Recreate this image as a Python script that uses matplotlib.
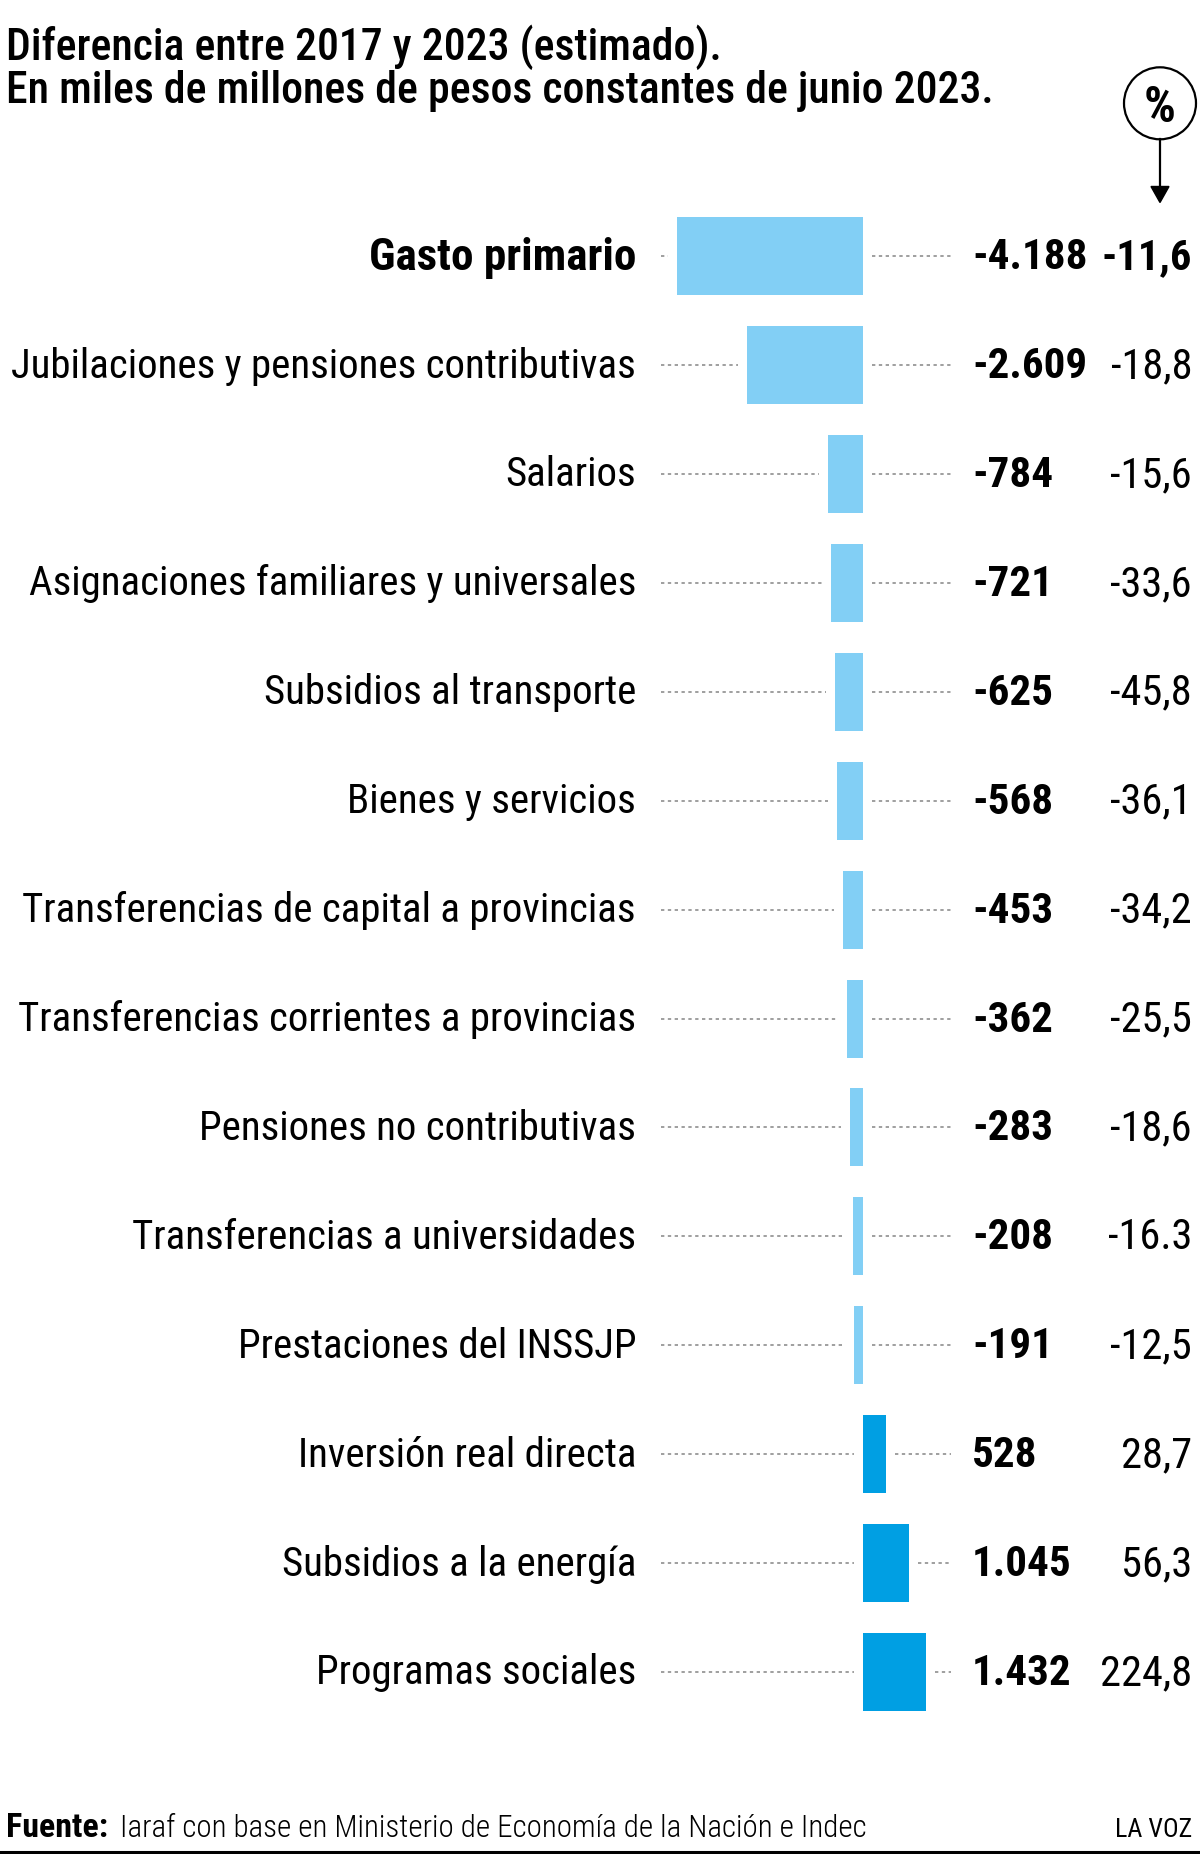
import os
import numpy as np
import matplotlib
matplotlib.use("Agg")
import matplotlib.pyplot as plt
import matplotlib.transforms as mtransforms
from matplotlib import font_manager as fm
from matplotlib.patches import Circle
from matplotlib.lines import Line2D

# data
categories = ['Gasto primario', 'Jubilaciones y pensiones contributivas', 'Salarios',
              'Asignaciones familiares y universales', 'Subsidios al transporte',
              'Bienes y servicios', 'Transferencias de capital a provincias',
              'Transferencias corrientes a provincias', 'Pensiones no contributivas',
              'Transferencias a universidades', 'Prestaciones del INSSJP',
              'Inversión real directa', 'Subsidios a la energía', 'Programas sociales']
values = [-4188, -2609, -784, -721, -625, -568, -453, -362, -283, -208, -191, 528, 1045, 1432]
pct_labels = ['-11,6', '-18,8', '-15,6', '-33,6', '-45,8', '-36,1', '-34,2', '-25,5',
              '-18,6', '-16.3', '-12,5', '28,7', '56,3', '224,8']
value_labels = [f"{v:,}".replace(',', '.') for v in values]

title = "Diferencia entre 2017 y 2023 (estimado).\nEn miles de millones de pesos constantes de junio 2023."
source = "Iaraf con base en Ministerio de Economía de la Nación e Indec"

# fonts: look for a condensed face
files = {os.path.basename(f.fname).lower(): f.fname for f in fm.fontManager.ttflist}


def pick(names, size, fallback_weight='normal'):
    for n in names:
        if n in files:
            return fm.FontProperties(fname=files[n], size=size)
    return fm.FontProperties(family=['Liberation Sans Narrow', 'Liberation Sans'],
                             weight=fallback_weight, size=size)


REG = ['robotocondensed-regular.ttf', 'liberationsansnarrow-regular.ttf',
       'notosans-condensed.ttf', 'notosans-condensedregular.ttf']
LIGHT = ['robotocondensed-light.ttf', 'notosans-condensedlight.ttf'] + REG
MED = ['robotocondensed-medium.ttf', 'notosans-condensedmedium.ttf',
       'notosans-condensedsemibold.ttf', 'robotocondensed-regular.ttf'] + REG
BOLD = ['robotocondensed-bold.ttf', 'liberationsansnarrow-bold.ttf',
        'notosans-condensedbold.ttf']
BLACK = ['robotocondensed-black.ttf', 'notosans-condensedblack.ttf',
         'notosans-condensedextrabold.ttf'] + BOLD

W, H = 1200, 1854
fig = plt.figure(figsize=(W / 100, H / 100), dpi=100)
ax = fig.add_axes([0, 0, 1, 1])
ax.axis('off')

# pixel transform (top-left origin)
px = mtransforms.Affine2D().scale(1 / W, -1 / H).translate(0, 1) + fig.transFigure

ZERO_PX = 862.7
SCALE = 0.04441   # px per unit
ROW0, ROWH = 256.2, 108.9
ax.set_xlim(-ZERO_PX / SCALE, (W - ZERO_PX) / SCALE)
ax.set_ylim((H - ROW0) / ROWH, -ROW0 / ROWH)

y = np.arange(len(categories))
light_blue, dark_blue = '#82CFF5', '#009FE3'
colors = [light_blue if v < 0 else dark_blue for v in values]
ax.barh(y, values, height=78 / ROWH, color=colors, zorder=2)

# dotted leaders
gap = 9 / SCALE
left_start = (661 - ZERO_PX) / SCALE
right_end = (951 - ZERO_PX) / SCALE
for yi, v in zip(y, values):
    le = min(v, 0) - gap
    rs = max(v, 0) + gap
    for a, b in [(left_start, le), (rs, right_end)]:
        if b > a:
            ax.plot([a, b], [yi, yi], color='#8f8f8f', lw=1.2,
                    dashes=(2.0, 2.1), zorder=1)

# row texts, nudged a few px above the bar centre
row_tr = mtransforms.blended_transform_factory(px, ax.transData)
ty = y - 3 / ROWH
for yi, t, cat, vl, pl in zip(y, ty, categories, value_labels, pct_labels):
    fp = pick(BLACK, 32.5, 'bold') if yi == 0 else pick(REG, 29.4)
    ax.text(636, t, cat, transform=row_tr, ha='right', va='center_baseline',
            fontproperties=fp, color='black')
    ax.text(972, t, vl, transform=row_tr, ha='left', va='center_baseline',
            fontproperties=pick(BLACK if yi == 0 else BOLD, 31, 'bold'), color='black')
    ax.text(1192, t, pl, transform=row_tr, ha='right', va='center_baseline',
            fontproperties=pick(BLACK if yi == 0 else REG, 30.5,
                                'bold' if yi == 0 else 'normal'), color='black')

# title
for i, line in enumerate(title.split('\n')):
    fig.text(6, [59.5, 103.3][i], line, transform=px, ha='left', va='baseline',
             fontproperties=pick(MED, 31.5), color='black')

# % marker
fig.add_artist(Circle((1160, 103.3), 36, transform=px, fill=False, lw=1.6, color='black'))
fig.text(1160, 103.3, '%', transform=px, ha='center', va='center_baseline',
         fontproperties=pick(BOLD, 36, 'bold'), color='black')
fig.add_artist(Line2D([1160, 1160], [139.5, 190], transform=px, lw=1.6, color='black'))
fig.add_artist(plt.Polygon([[1151, 186.5], [1169, 186.5], [1160, 202.5]], closed=True,
                           transform=px, color='black'))

# footer
fig.text(6, 1836.7, 'Fuente:', transform=px, ha='left', va='baseline',
         fontproperties=pick(BOLD, 24.5, 'bold'), color='black')
fig.text(120, 1836.7, source, transform=px, ha='left', va='baseline',
         fontproperties=pick(LIGHT, 22.3), color='black')
fig.text(1192, 1836.7, 'LA VOZ', transform=px, ha='right', va='baseline',
         fontproperties=pick(REG, 18.7), color='black')
fig.add_artist(Line2D([0, 1198], [1852.5, 1852.5], transform=px, lw=2.2, color='black'))

fig.savefig('out.png', dpi=100, facecolor='white')
